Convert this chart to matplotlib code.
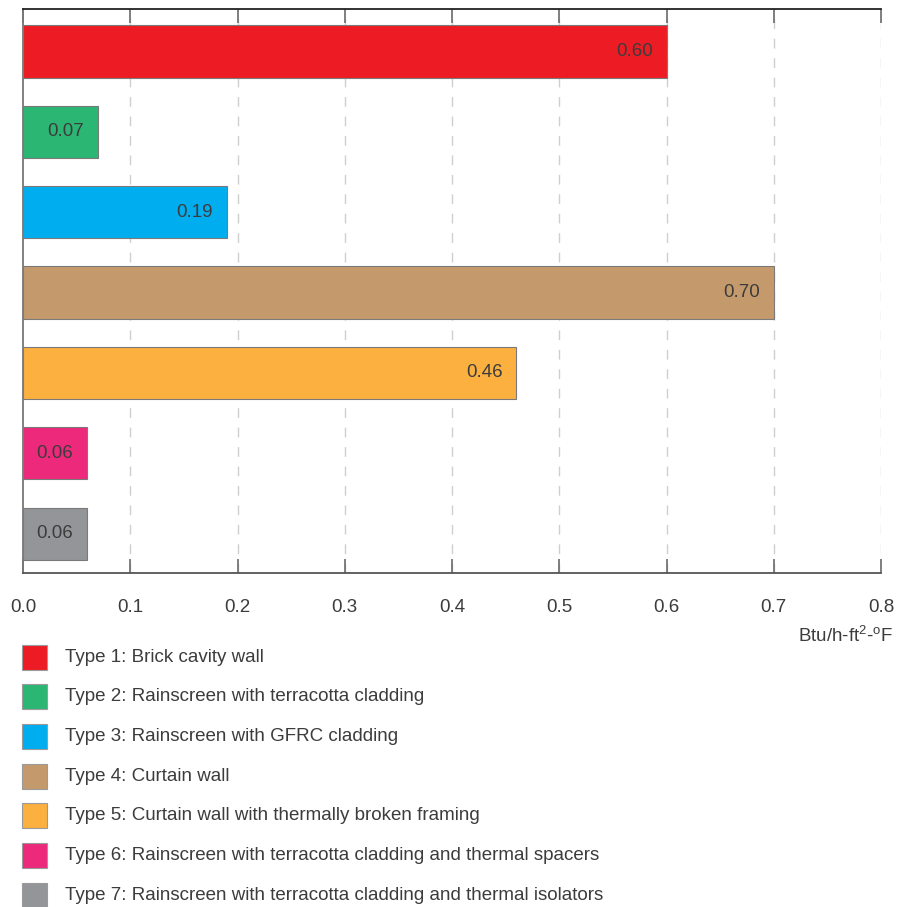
import numpy as np
import matplotlib
matplotlib.use('Agg')
import matplotlib.pyplot as plt
from matplotlib.patches import Rectangle

plt.rcParams['font.family'] = ['Liberation Sans', 'DejaVu Sans']
plt.rcParams['mathtext.fontset'] = 'custom'
plt.rcParams['mathtext.rm'] = 'Liberation Sans'

types = ['Type 1: Brick cavity wall',
         'Type 2: Rainscreen with terracotta cladding',
         'Type 3: Rainscreen with GFRC cladding',
         'Type 4: Curtain wall',
         'Type 5: Curtain wall with thermally broken framing',
         'Type 6: Rainscreen with terracotta cladding and thermal spacers',
         'Type 7: Rainscreen with terracotta cladding and thermal isolators']
uvalues = [0.60, 0.07, 0.19, 0.70, 0.46, 0.06, 0.06]
colors = ['#ED1C24', '#2BB673', '#00AEEF', '#C49A6C', '#FBB040', '#EC297B', '#939598']
xticks = [0.0, 0.1, 0.2, 0.3, 0.4, 0.5, 0.6, 0.7, 0.8]
unit = r'Btu/h-ft$^{2}$-$^{\mathrm{o}}$F'

W, H = 897, 907
txt = '#3c3c3c'
fs = 13.5

fig = plt.figure(figsize=(W / 100, H / 100), dpi=100)
ax = fig.add_axes([23 / W, 1 - 573 / H, (881 - 23) / W, (573 - 9) / H])

ypos = np.arange(len(uvalues))
ax.barh(ypos, uvalues, height=0.65, color=colors, edgecolor='#7a7a7a', linewidth=0.8, zorder=3)
for y, v in zip(ypos, uvalues):
    ax.text(v - 0.013, y, '%.2f' % v, ha='right', va='center', fontsize=fs, color=txt, zorder=4)

ax.set_xlim(0, 0.8)
ax.set_ylim(6.49, -0.53)
ax.set_yticks([])
ax.set_xticks(xticks)
ax.set_xticklabels(['%.1f' % t for t in xticks], fontsize=fs, color=txt)
ax.tick_params(axis='x', direction='in', length=10, width=1.2, color='#6a6a6a',
               pad=19, top=True)

# dashed guide lines
for t in xticks[1:]:
    ax.axvline(t, color='#cfcfcf', ls=(0, (7, 7)), lw=1, zorder=1)

ax.spines['right'].set_visible(False)
ax.spines['top'].set_color('#222222')
ax.spines['top'].set_linewidth(1.3)
ax.spines['bottom'].set_color('#555555')
ax.spines['bottom'].set_linewidth(1.3)
ax.spines['left'].set_color('#777777')
ax.spines['left'].set_linewidth(1.3)

fig.text(893 / W, 1 - 636 / H, unit, ha='right', va='center', fontsize=fs, color=txt)

# legend
for i, (lab, col) in enumerate(zip(types, colors)):
    yc = 657 + i * 39.7
    fig.patches.append(Rectangle((22 / W, 1 - (yc + 12.5) / H), 25 / W, 25 / H,
                                 transform=fig.transFigure, facecolor=col,
                                 edgecolor='#9a9a9a', linewidth=0.8))
    fig.text(65 / W, 1 - yc / H, lab, ha='left', va='center', fontsize=fs, color=txt)

fig.savefig('out.png', dpi=100)
